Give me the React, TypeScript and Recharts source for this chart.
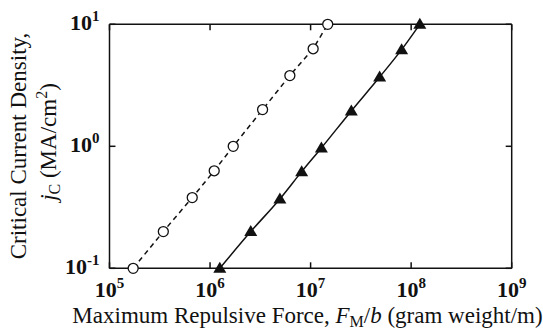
import { ComposedChart, Line, XAxis, YAxis } from "recharts";

// open circles (dashed) and filled triangles (solid)
const circleForce = [1.72e5, 3.43e5, 6.65e5, 1.1e6, 1.7e6, 3.33e6, 6.22e6, 1.06e7, 1.48e7];
const circleJc = [0.1, 0.2, 0.38, 0.63, 1.0, 2.0, 3.8, 6.3, 10];
const triangleForce = [1.25e6, 2.54e6, 4.95e6, 8.15e6, 1.28e7, 2.54e7, 4.86e7, 8.04e7, 1.22e8];
const triangleJc = [0.1, 0.2, 0.37, 0.62, 0.97, 1.95, 3.7, 6.2, 10];

const xTicks = [1e5, 1e6, 1e7, 1e8, 1e9];
const yTicks = [0.1, 1, 10];

const circleData = circleForce.map((x, i) => ({ x, y: circleJc[i] }));
const triangleData = triangleForce.map((x, i) => ({ x, y: triangleJc[i] }));

const FONT = "Liberation Serif, Times New Roman, serif";
const INK = "#111";

const expOf = (v: number) => Math.round(Math.log10(v));

const BottomTick = (props: any) => {
  const { x, y, payload } = props;
  return (
    <g>
      <line x1={x} y1={y} x2={x} y2={y - 6} stroke={INK} strokeWidth={1.5} />
      <text x={x} y={y + 28.5} textAnchor="middle" fontFamily={FONT} fontWeight="bold" fontSize={22} fill={INK}>
        10
        <tspan dy={-9} fontSize={15}>{expOf(payload.value)}</tspan>
      </text>
    </g>
  );
};

const TopTick = (props: any) => {
  const { x, y } = props;
  return <line x1={x} y1={y} x2={x} y2={y + 6} stroke={INK} strokeWidth={1.5} />;
};

const LeftTick = (props: any) => {
  const { x, y, payload } = props;
  return (
    <g>
      <line x1={x} y1={y} x2={x + 6} y2={y} stroke={INK} strokeWidth={1.5} />
      <text x={x - 10} y={y + 6} textAnchor="end" fontFamily={FONT} fontWeight="bold" fontSize={22} fill={INK}>
        10
        <tspan dy={-9} fontSize={15}>{expOf(payload.value)}</tspan>
      </text>
    </g>
  );
};

const RightTick = (props: any) => {
  const { x, y } = props;
  return <line x1={x} y1={y} x2={x - 6} y2={y} stroke={INK} strokeWidth={1.5} />;
};

const CircleDot = (props: any) => {
  const { cx, cy, index } = props;
  return <circle key={`c-${index}`} cx={cx} cy={cy} r={5} fill="#fff" stroke={INK} strokeWidth={1.3} />;
};

const TriangleDot = (props: any) => {
  const { cx, cy, index } = props;
  return (
    <polygon
      key={`t-${index}`}
      points={`${cx},${cy - 6.5} ${cx - 6.5},${cy + 4.5} ${cx + 6.5},${cy + 4.5}`}
      fill={INK}
    />
  );
};

export default function App() {
  return (
    <div style={{ position: "relative", width: 543, height: 329, background: "#fff" }}>
      <style>{"body{margin:0}"}</style>
      <ComposedChart width={543} height={329} margin={{ top: 23.3, right: 30.3, bottom: 20.7, left: 9.5 }}>
        <XAxis
          xAxisId="b"
          dataKey="x"
          type="number"
          scale="log"
          domain={[1e5, 1e9]}
          ticks={xTicks}
          height={40}
          tickSize={0}
          tickMargin={0}
          tickLine={false}
          axisLine={{ stroke: INK, strokeWidth: 1.5 }}
          tick={<BottomTick />}
          interval={0}
        />
        <XAxis
          xAxisId="t"
          orientation="top"
          dataKey="x"
          type="number"
          scale="log"
          domain={[1e5, 1e9]}
          ticks={xTicks}
          height={1}
          tickSize={0}
          tickMargin={0}
          tickLine={false}
          axisLine={{ stroke: INK, strokeWidth: 1.5 }}
          tick={<TopTick />}
          interval={0}
        />
        <YAxis
          yAxisId="l"
          type="number"
          scale="log"
          domain={[0.1, 10]}
          ticks={yTicks}
          width={100}
          tickSize={0}
          tickMargin={0}
          tickLine={false}
          axisLine={{ stroke: INK, strokeWidth: 1.5 }}
          tick={<LeftTick />}
          interval={0}
        />
        <YAxis
          yAxisId="r"
          orientation="right"
          type="number"
          scale="log"
          domain={[0.1, 10]}
          ticks={yTicks}
          width={1}
          tickSize={0}
          tickMargin={0}
          tickLine={false}
          axisLine={{ stroke: INK, strokeWidth: 1.5 }}
          tick={<RightTick />}
          interval={0}
        />
        {/* invisible series so the top/right frame axes get rendered */}
        <Line
          xAxisId="t"
          yAxisId="r"
          data={circleData}
          dataKey="y"
          stroke="none"
          dot={false}
          activeDot={false}
          legendType="none"
          isAnimationActive={false}
        />
        <Line
          xAxisId="b"
          yAxisId="l"
          data={circleData}
          dataKey="y"
          type="linear"
          stroke={INK}
          strokeWidth={1.5}
          strokeDasharray="5 4"
          dot={CircleDot}
          activeDot={false}
          isAnimationActive={false}
        />
        <Line
          xAxisId="b"
          yAxisId="l"
          data={triangleData}
          dataKey="y"
          type="monotone"
          stroke={INK}
          strokeWidth={1.5}
          dot={TriangleDot}
          activeDot={false}
          isAnimationActive={false}
        />
      </ComposedChart>
      <svg width={543} height={329} style={{ position: "absolute", left: 0, top: 0, pointerEvents: "none" }}>
        <g fontFamily={FONT} fontSize={23} fill={INK}>
          <text x={26} y={146} transform="rotate(-90 26 146)" textAnchor="middle">
            Critical Current Density,
          </text>
          <text x={56} y={142} transform="rotate(-90 56 142)" textAnchor="middle">
            <tspan fontStyle="italic">j</tspan>
            <tspan fontSize={16} dy={4}>C</tspan>
            <tspan dy={-4}> (MA/cm</tspan>
            <tspan fontSize={16} dy={-9}>2</tspan>
            <tspan dy={9}>)</tspan>
          </text>
          <text x={307.5} y={323} textAnchor="middle">
            Maximum Repulsive Force,{" "}
            <tspan fontStyle="italic">F</tspan>
            <tspan fontSize={16} dy={4}>M</tspan>
            <tspan dy={-4}>/</tspan>
            <tspan fontStyle="italic">b</tspan> (gram weight/m)
          </text>
        </g>
      </svg>
    </div>
  );
}
